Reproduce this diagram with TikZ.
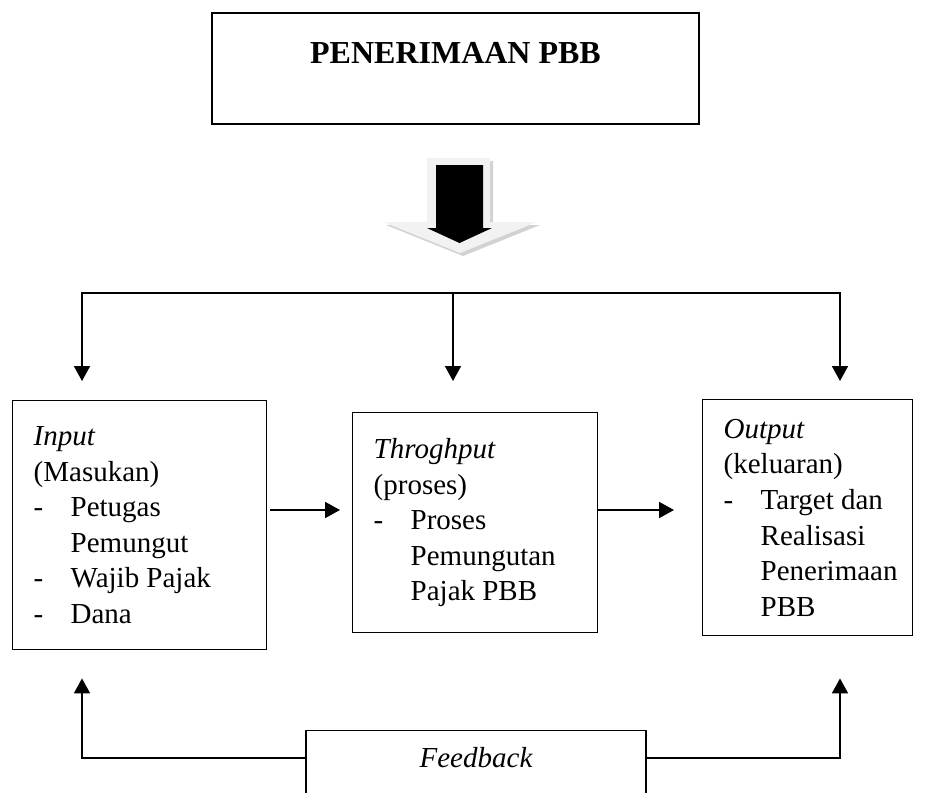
\documentclass[tikz,border=0pt]{standalone}
\usepackage{fontspec}
\setmainfont{Liberation Serif}
\usetikzlibrary{arrows.meta}

\newcommand{\dashitm}{\makebox[37pt][l]{-}}
\newcommand{\indentitm}{\hspace*{37pt}}

\begin{document}
\begin{tikzpicture}[x=1pt, y=-1pt,
	box/.style={draw, line width=1.4pt, anchor=north west, align=flush left, inner xsep=21pt, inner ysep=0pt,
		font={\fontsize{29}{35.6}\selectfont\hyphenpenalty=10000\relax}},
	arr/.style={line width=1.8pt, -{Triangle[length=15pt,width=16pt]}}]
	\useasboundingbox (0,0) rectangle (927,793);
	\clip (0,0) rectangle (927,793);

	% title
	\node[draw, line width=1.4pt, minimum width=487pt, minimum height=111pt, text height=22pt, text depth=33pt,
		font=\fontsize{32}{38}\selectfont\bfseries] (title) at (455.5,68.5) {PENERIMAAN PBB};

	% block arrow
	\fill[gray!35] (430,161) -- (493,161) -- (493,225) -- (540,225) -- (463,256) -- (386,225) -- (430,225) -- cycle;
	\fill[gray!10] (427,158) -- (490,158) -- (490,222) -- (537,222) -- (460,253) -- (383,222) -- (427,222) -- cycle;
	\fill[black] (436,165) -- (483,165) -- (483,228) -- (492,228) -- (459.5,243) -- (427,228) -- (436,228) -- cycle;

	% boxes
	\node[box, text width=212pt, minimum height=249pt] (input) at (12,400)
		{\textit{Input}\\(Masukan)\\\dashitm Petugas\\\indentitm Pemungut\\\dashitm Wajib Pajak\\\dashitm Dana};
	\node[box, text width=203pt, minimum height=220pt] (thr) at (352,412)
		{\textit{Throghput}\\(proses)\\\dashitm Proses\\\indentitm Pemungutan\\\indentitm Pajak PBB};
	\node[box, text width=168pt, minimum height=236pt] (out) at (702,399)
		{\textit{Output}\\(keluaran)\\\dashitm Target dan\\\indentitm Realisasi\\\indentitm Penerimaan\\\indentitm PBB};

	% feedback
	\node[draw, line width=1.4pt, anchor=north, minimum width=340pt, minimum height=100pt, text height=20pt, text depth=46pt,
		font=\fontsize{29}{35.6}\selectfont\itshape] (fb) at (476,730) {Feedback};

	% connectors
	\coordinate (splitL) at (82,293);
	\coordinate (splitM) at (453,293);
	\coordinate (splitR) at (840,293);
	\coordinate (row) at (0,510);
	\coordinate (fbrow) at (0,758);

	\draw[arr, shorten >=19pt] (splitM) -| (splitL |- input.north);
	\draw[arr, shorten >=31pt] (splitM) -- (splitM |- thr.north);
	\draw[arr, shorten >=18pt] (splitM) -| (splitR |- out.north);

	\draw[arr, shorten <=3pt, shorten >=12pt] (input.east |- row) -- (thr.west |- row);
	\draw[arr, shorten >=28pt] (thr.east |- row) -- (out.west |- row);

	\draw[arr, shorten >=28pt] (fb.west |- fbrow) -| (splitL |- input.south);
	\draw[arr, shorten >=42pt] (fb.east |- fbrow) -| (splitR |- out.south);
\end{tikzpicture}
\end{document}
